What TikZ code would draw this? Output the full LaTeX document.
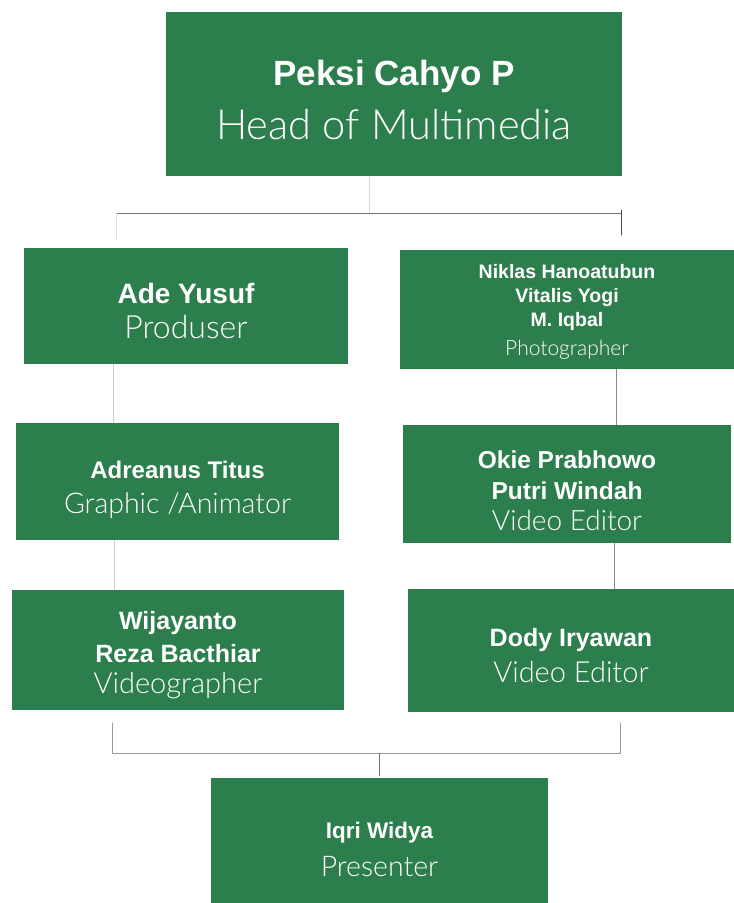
\documentclass[tikz,border=0pt]{standalone}
\usepackage{fontspec}
\setmainfont{Liberation Sans}
\newfontfamily\thinfont{Lato Light}
\usepackage{tikz}

\definecolor{boxgreen}{RGB}{45,126,77}
\newlength{\dropt}
\tikzset{
  box/.style={fill=boxgreen,text=white,align=center,inner sep=0pt,
    execute at begin node={\setlength{\dropt}{#1}}},
  box/.default=6pt,
  link/.style={line width=0.8pt,color=black!40},
}
% first line: taller box, so the text block sits lower in its box
\newcommand{\lead}[2]{\raisebox{0pt}[\dimexpr\height+2\dropt\relax]{\fontsize{#1}{#1}\selectfont\bfseries #2}}
\newcommand{\nm}[2]{{\fontsize{#1}{#1}\selectfont\bfseries #2}}
\newcommand{\rl}[2]{{\fontsize{#1}{#1}\selectfont\thinfont #2}}

\begin{document}
\begin{tikzpicture}[line cap=round,line join=round,x=1pt,y=-1pt]
\useasboundingbox (0,0) rectangle (734,903);
% boxes
\node[box,minimum width=456,minimum height=164] (head) at (394,94)
  {\lead{35}{Peksi Cahyo P}\\[15pt]\rl{41.5}{Head of Multimedia}};
\node[box=5pt,minimum width=324,minimum height=116] (ade) at (186,306)
  {\lead{28}{Ade Yusuf}\\[10pt]\rl{32}{Produser}};
\node[box=2pt,minimum width=334,minimum height=119] (photo) at (567,309.5)
  {\lead{19.5}{Niklas Hanoatubun}\\[9pt]\nm{19.5}{Vitalis Yogi}\\[5pt]\nm{19.5}{M. Iqbal}\\[8pt]\rl{21}{Photographer}};
\node[box=8pt,minimum width=323,minimum height=117] (adre) at (177.5,481.5)
  {\lead{24}{Adreanus Titus}\\[13pt]\rl{28.5}{Graphic /Animator}};
\node[box=7pt,minimum width=328,minimum height=118] (okie) at (567,484)
  {\lead{24.5}{Okie Prabhowo}\\[12pt]\nm{24.5}{Putri Windah}\\[9pt]\rl{28}{Video Editor}};
\node[box=5pt,minimum width=332,minimum height=120] (wija) at (178,650)
  {\lead{25}{Wijayanto}\\[9pt]\nm{25}{Reza Bacthiar}\\[9pt]\rl{29}{Videographer}};
\node[box=5pt,minimum width=326,minimum height=123] (dody) at (571,650.5)
  {\lead{25}{Dody Iryawan}\\[9pt]\rl{29}{Video Editor}};
\node[box=9pt,minimum width=337,minimum height=125] (iqri) at (379.5,840.5)
  {\lead{22.5}{Iqri Widya}\\[12pt]\rl{28.5}{Presenter}};
% junctions
\coordinate (topbar) at (369,213);
\coordinate (topleft) at (116,213);
\coordinate (topright) at (621,213);
\coordinate (botleft) at (112,753);
\coordinate (botright) at (620,753);
\coordinate (botmid) at (379,753);
% lines
\draw[link,color=black!15] (head.south -| topbar) -- (topbar);
\draw[link,color=black!55] (topleft) -- (topright);
\draw[link,color=black!70] (topright) ++(0,-3) -- ++(0,25);
\draw[link,color=black!10] (topleft) -- ++(0,27);
\draw[link,color=black!20] (ade.south -| 113,0) -- (adre.north -| 113,0);
\draw[link,color=black!45] (photo.south -| 616,0) -- (okie.north -| 616,0);
\draw[link,color=black!20] (adre.south -| 114,0) -- (wija.north -| 114,0);
\draw[link,color=black!45] (okie.south -| 614,0) -- (dody.north -| 614,0);
\draw[link] (botleft) ++(0,-30) -- (botleft) -- (botright) -- ++(0,-30);
\draw[link,color=black!55] (botmid) -- ++(0,23);
\end{tikzpicture}
\end{document}
